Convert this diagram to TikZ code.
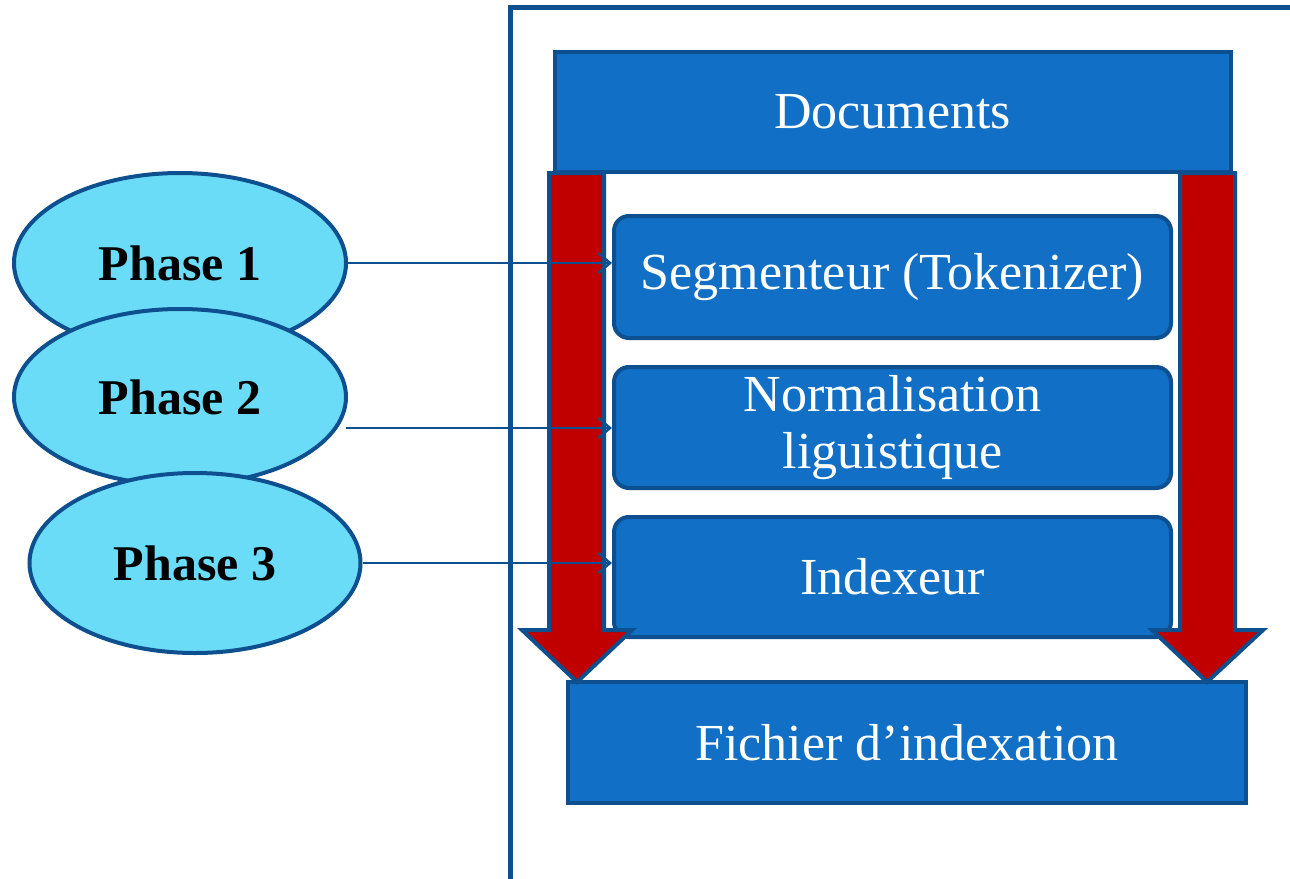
\documentclass[tikz,border=0pt]{standalone}
\usepackage{fontspec}
\setmainfont{Liberation Serif}
\usetikzlibrary{arrows.meta,shapes.geometric}
\definecolor{boxblue}{HTML}{1170C6}
\definecolor{edgeblue}{HTML}{0E4F8F}
\definecolor{cyanfill}{HTML}{6ADCF8}
\definecolor{arrred}{HTML}{C00000}
\tikzset{
  x=0.5pt,y=-0.5pt,
  blockbox/.style={draw=edgeblue,fill=boxblue,line width=2pt,text=white,font=\fontsize{26}{28.5}\selectfont,align=center,inner sep=0pt},
  phasell/.style={ellipse,draw=edgeblue,fill=cyanfill,line width=2pt,font=\bfseries\fontsize{25}{28}\selectfont,inner sep=0pt},
  redarrow/.style={draw=edgeblue,fill=arrred,line width=2pt,line join=miter},
  link/.style={draw=edgeblue,line width=1pt,-{Straight Barb[length=6pt,width=10pt,line width=1.2pt]}}
}
\begin{document}
\begin{tikzpicture}
\useasboundingbox (0,0) rectangle (1290,878);
\clip (0,0) rectangle (1290,878);
\fill[white] (0,0) rectangle (1290,878);
% outer frame
\draw[edgeblue,line width=2.5pt] (510,7.5) rectangle (1320,900);
% boxes
\node[blockbox,minimum width=338pt,minimum height=60pt] (docs) at (892.5,112) {Documents};
\node[blockbox,rounded corners=7.5pt,minimum width=278.5pt,minimum height=61pt] (seg) at (892.5,277) {Segmenteur (Tokenizer)};
\node[blockbox,rounded corners=7.5pt,minimum width=278.5pt,minimum height=60.5pt] (norm) at (892.5,427.5) {Normalisation\\liguistique};
\node[blockbox,rounded corners=7.5pt,minimum width=278.5pt,minimum height=60pt] (idx) at (892.5,577) {Indexeur};
\node[blockbox,minimum width=339pt,minimum height=60.5pt] (fich) at (907,742.5) {Fichier d’indexation};
% red arrows
\draw[redarrow] (549,173) -- (604,173) -- (604,630) -- (632,630) -- (577,682) -- (522,630) -- (549,630) -- cycle;
\draw[redarrow] (1180,173) -- (1235,173) -- (1235,630) -- (1263,630) -- (1207,682) -- (1152,630) -- (1180,630) -- cycle;
% phases
\node[phasell,minimum width=166pt,minimum height=90pt] (p1) at (180,263) {Phase 1};
\node[phasell,minimum width=166pt,minimum height=88pt] (p2) at (180,397) {Phase 2};
\node[phasell,minimum width=165.5pt,minimum height=90pt] (p3) at (195,563) {Phase 3};
% connectors
\coordinate (s2) at (346,428);
\draw[link] (p1.east) -- (seg.west |- p1.east);
\draw[link] (s2) -- (norm.west |- s2);
\draw[link] (p3.east) -- (idx.west |- p3.east);
\end{tikzpicture}
\end{document}
